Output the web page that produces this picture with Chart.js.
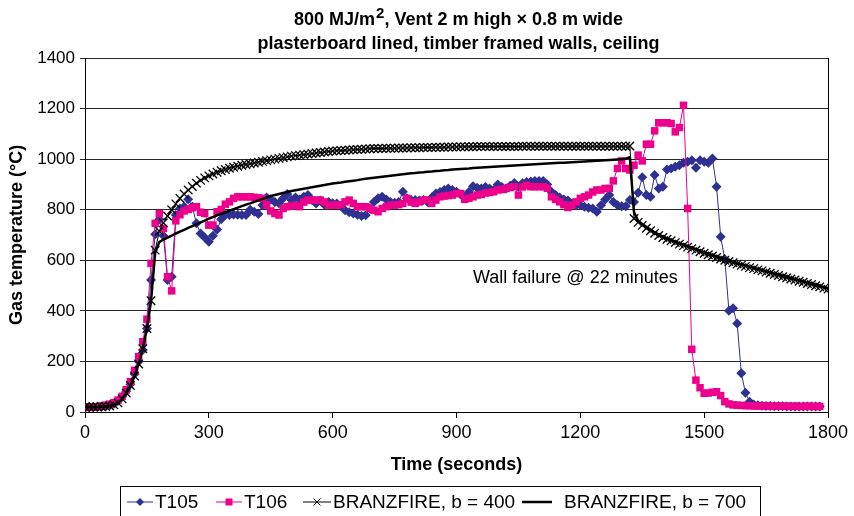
<!DOCTYPE html>
<html>
<head>
<meta charset="utf-8">
<script src="https://cdn.jsdelivr.net/npm/chart.js@4.4.1/dist/chart.umd.min.js"></script>
<style>
  html, body { margin: 0; padding: 0; background: #ffffff; }
  #c { display: block; }
</style>
</head>
<body>
<canvas id="c" width="854" height="516" style="width:854px;height:516px"></canvas>
<script>
// Gas temperatures logged every 10 s (°C)
const STEP = 10;

const xTickValues = [0, 300, 600, 900, 1200, 1500, 1800];
const yTickValues = [0, 200, 400, 600, 800, 1000, 1200, 1400];

// Thermocouple T105 (0 – 1780 s)
const t105 = [
  20, 20, 20, 21, 21, 23, 27, 33, 44, 60,
  82, 110, 150, 200, 245, 330, 522, 703, 762, 697,
  522, 535, 779, 805, 812, 841, 812, 746, 706, 690,
  673, 697, 722, 762, 779, 779, 781, 780, 779, 779,
  800, 792, 783, 818, 848, 840, 831, 826, 845, 862,
  838, 848, 840, 851, 858, 838, 825, 836, 820, 831,
  826, 825, 815, 798, 790, 785, 780, 775, 778, 805,
  831, 845, 851, 840, 831, 828, 831, 871, 845, 838,
  838, 836, 838, 831, 848, 864, 870, 878, 884, 878,
  871, 860, 851, 870, 893, 887, 884, 890, 884, 878,
  900, 890, 884, 895, 906, 891, 905, 910, 912, 914,
  914, 914, 900, 871, 858, 848, 840, 836, 825, 818,
  818, 812, 808, 805, 792, 818, 840, 858, 831, 818,
  814, 814, 838, 831, 867, 928, 858, 851, 937, 884,
  891, 959, 963, 970, 976, 986, 990, 996, 966, 996,
  990, 986, 1003, 891, 693, 604, 400, 410, 350, 153,
  76, 41, 30, 27, 25, 24, 24, 23, 23, 23,
  22, 22, 22, 22, 22, 22, 22, 22, 22
];

// Thermocouple T106 (0 – 1780 s)
const t106 = [
  18, 18, 19, 21, 24, 27, 31, 37, 47, 62,
  88, 120, 165, 219, 278, 367, 588, 746, 785, 726,
  535, 479, 756, 780, 795, 801, 808, 812, 790, 785,
  739, 739, 792, 801, 822, 831, 845, 851, 851, 851,
  851, 849, 847, 845, 818, 795, 785, 779, 805, 812,
  815, 818, 812, 830, 838, 838, 838, 838, 831, 818,
  818, 818, 820, 831, 838, 825, 812, 812, 812, 805,
  798, 792, 805, 812, 818, 818, 820, 825, 845, 830,
  825, 831, 838, 838, 825, 838, 851, 854, 856, 858,
  864, 864, 841, 845, 851, 858, 860, 866, 868, 871,
  878, 880, 884, 888, 891, 858, 890, 897, 891, 891,
  891, 891, 885, 851, 841, 831, 820, 809, 818, 831,
  845, 851, 858, 870, 878, 878, 884, 884, 914, 963,
  993, 963, 957, 976, 1016, 993, 1059, 1059, 1112, 1144,
  1144, 1144, 1141, 1108, 1125, 1213, 805, 248, 126, 96,
  74, 75, 78, 80, 65, 41, 32, 28, 27, 26,
  25, 25, 24, 24, 24, 23, 23, 24, 23, 23,
  23, 22, 23, 22, 22, 23, 22, 22, 22
];

// BRANZFIRE prediction, b = 400 (0 – 1800 s)
const branz400 = [
  20, 20, 20, 20, 21, 22, 24, 28, 36, 52,
  75, 105, 142, 190, 250, 330, 440, 640, 715, 748,
  775, 800, 823, 845, 862, 878, 892, 905, 916, 926,
  934, 941, 948, 954, 959, 964, 968, 972, 976, 979,
  982, 985, 988, 991, 994, 997, 1000, 1003, 1006, 1009,
  1012, 1014, 1016, 1018, 1020, 1022, 1024, 1026, 1028, 1030,
  1032, 1033, 1034, 1035, 1036, 1037, 1038, 1039, 1040, 1041,
  1042, 1042, 1042, 1043, 1043, 1043, 1044, 1044, 1044, 1045,
  1045, 1045, 1046, 1046, 1046, 1047, 1047, 1047, 1048, 1048,
  1048, 1049, 1049, 1049, 1049, 1050, 1050, 1050, 1050, 1050,
  1050, 1050, 1050, 1050, 1050, 1050, 1051, 1051, 1051, 1051,
  1051, 1051, 1051, 1051, 1051, 1051, 1051, 1051, 1051, 1051,
  1051, 1051, 1051, 1051, 1051, 1051, 1051, 1051, 1051, 1051,
  1051, 1051, 1052, 765, 750, 738, 727, 717, 707, 698,
  690, 683, 677, 670, 664, 658, 652, 646, 640, 634,
  628, 622, 617, 611, 605, 600, 595, 590, 585, 580,
  576, 571, 567, 562, 558, 553, 549, 544, 540, 535,
  531, 526, 522, 517, 513, 508, 504, 499, 495, 490,
  486
];

// BRANZFIRE prediction, b = 700 (0 – 1800 s)
const branz700 = [
  20, 20, 20, 20, 21, 22, 24, 28, 36, 52,
  75, 105, 142, 190, 250, 330, 440, 630, 672, 682,
  690, 698, 706, 713, 720, 728, 735, 742, 750, 757,
  765, 771, 778, 784, 790, 796, 802, 808, 814, 820,
  825, 831, 837, 843, 849, 854, 858, 862, 866, 870,
  874, 877, 880, 883, 886, 889, 892, 895, 898, 901,
  904, 906, 908, 911, 913, 915, 917, 920, 922, 924,
  926, 928, 930, 932, 934, 936, 938, 940, 942, 944,
  945, 947, 948, 950, 951, 953, 954, 956, 957, 959,
  960, 961, 962, 963, 965, 966, 967, 968, 969, 970,
  971, 972, 973, 974, 975, 976, 977, 978, 979, 980,
  981, 982, 983, 984, 985, 986, 986, 987, 988, 989,
  990, 991, 992, 993, 994, 995, 996, 997, 998, 999,
  1000, 1002, 1008, 790, 756, 743, 732, 721, 711, 702,
  694, 687, 681, 674, 668, 662, 656, 650, 644, 638,
  632, 626, 621, 615, 609, 604, 599, 594, 589, 584,
  580, 575, 571, 566, 562, 557, 553, 548, 544, 539,
  535, 530, 526, 521, 517, 512, 508, 503, 499, 494,
  490
];

const seriesNames = ['T105', 'T106', 'BRANZFIRE, b = 400', 'BRANZFIRE, b = 700'];

const BLUE = '#2e3192';
const PINK = '#ec008c';
const BLACK = '#000000';
const FONT = "'Liberation Sans', Arial, Helvetica, sans-serif";

Chart.defaults.font.family = FONT;
Chart.defaults.color = '#000';

const toPoints = vals => vals.map((v, i) => ({ x: i * STEP, y: v }));

// Draws a legend key: short line with the series marker in its middle
function drawKey(g, x0, x1, y, color, marker, lineWidth) {
  g.save();
  g.strokeStyle = color; g.fillStyle = color; g.lineWidth = lineWidth;
  g.beginPath(); g.moveTo(x0, y); g.lineTo(x1, y); g.stroke();
  const cx = (x0 + x1) / 2;
  if (marker === 'diamond') {
    g.beginPath(); g.moveTo(cx, y - 4); g.lineTo(cx + 4, y); g.lineTo(cx, y + 4); g.lineTo(cx - 4, y); g.closePath(); g.fill();
  } else if (marker === 'square') {
    g.fillRect(cx - 3.5, y - 3.5, 7, 7);
  } else if (marker === 'cross') {
    g.lineWidth = 1;
    g.beginPath(); g.moveTo(cx - 3.5, y - 3.5); g.lineTo(cx + 3.5, y + 3.5);
    g.moveTo(cx + 3.5, y - 3.5); g.lineTo(cx - 3.5, y + 3.5); g.stroke();
  }
  g.restore();
}

const titlePlugin = {
  id: 'twoLineTitle',
  afterDraw(chart) {
    const { ctx, chartArea } = chart;
    const cx = (chartArea.left + chartArea.right) / 2 + 2;
    ctx.save();
    ctx.fillStyle = '#000';
    ctx.textBaseline = 'alphabetic';
    ctx.textAlign = 'left';
    const main = 'bold 18px ' + FONT;
    const sup = 'bold 15px ' + FONT;
    const a = '800 MJ/m', s = '2', b = ', Vent 2 m high \u00d7 0.8 m wide';
    ctx.font = main; const wa = ctx.measureText(a).width, wb = ctx.measureText(b).width;
    ctx.font = sup; const ws = ctx.measureText(s).width;
    let x = cx - (wa + ws + 1 + wb) / 2;
    ctx.font = main; ctx.fillText(a, x, 25); x += wa;
    ctx.font = sup; ctx.fillText(s, x + 1, 18); x += ws + 1;
    ctx.font = main; ctx.fillText(b, x, 25);
    ctx.textAlign = 'center';
    ctx.fillText('plasterboard lined, timber framed walls, ceiling', cx, 49);
    ctx.restore();
  }
};

const framePlugin = {
  id: 'frame',
  beforeDatasetsDraw(chart) {
    const { ctx, chartArea } = chart;
    ctx.save();
    ctx.strokeStyle = '#000'; ctx.lineWidth = 1;
    const r = Math.round(chartArea.right) + 0.5;
    ctx.beginPath(); ctx.moveTo(r, chartArea.top); ctx.lineTo(r, chartArea.bottom); ctx.stroke();
    ctx.restore();
  }
};

// Boxed legend along the bottom edge
const legendPlugin = {
  id: 'boxLegend',
  afterDraw(chart) {
    const { ctx } = chart;
    const keys = [
      { x: 127, w: 26, gap: 2, color: BLUE, marker: 'diamond', lw: 1 },
      { x: 216, w: 26, gap: 2, color: PINK, marker: 'square', lw: 1 },
      { x: 303, w: 28, gap: 2, color: BLACK, marker: 'cross', lw: 1 },
      { x: 522, w: 30, gap: 12, color: BLACK, marker: 'none', lw: 2.5 }
    ];
    const y = 502;
    ctx.save();
    ctx.strokeStyle = '#000'; ctx.lineWidth = 1;
    ctx.strokeRect(120.5, 486.5, 640, 40);
    ctx.font = '19px ' + FONT;
    ctx.fillStyle = '#000';
    ctx.textBaseline = 'middle';
    ctx.textAlign = 'left';
    seriesNames.forEach((name, i) => {
      const k = keys[i];
      drawKey(ctx, k.x, k.x + k.w, y, k.color, k.marker, k.lw);
      ctx.fillText(name, k.x + k.w + k.gap, y + 1);
    });
    ctx.restore();
  }
};

const notePlugin = {
  id: 'wallNote',
  afterDatasetsDraw(chart) {
    const { ctx, scales } = chart;
    ctx.save();
    ctx.font = '18px ' + FONT;
    ctx.fillStyle = '#000';
    ctx.textBaseline = 'middle';
    ctx.textAlign = 'left';
    ctx.fillText('Wall failure @ 22 minutes', scales.x.getPixelForValue(940), scales.y.getPixelForValue(528));
    ctx.restore();
  }
};

new Chart(document.getElementById('c'), {
  type: 'line',
  data: {
    datasets: [
      { label: seriesNames[0], data: toPoints(t105), borderColor: BLUE, backgroundColor: BLUE,
        borderWidth: 1, pointStyle: 'rectRot', pointRadius: 5, pointBorderWidth: 0,
        pointBackgroundColor: BLUE, order: 4 },
      { label: seriesNames[1], data: toPoints(t106), borderColor: PINK, backgroundColor: PINK,
        borderWidth: 1, pointStyle: 'rect', pointRadius: 5.3, pointBorderWidth: 0,
        pointBackgroundColor: PINK, order: 3 },
      { label: seriesNames[2], data: toPoints(branz400), borderColor: BLACK,
        backgroundColor: BLACK, borderWidth: 1, pointStyle: 'crossRot', pointRadius: 6,
        pointBorderWidth: 1.3, pointBorderColor: BLACK, order: 2 },
      { label: seriesNames[3], data: toPoints(branz700), borderColor: BLACK,
        borderWidth: 2.5, pointRadius: 0, order: 1 }
    ]
  },
  options: {
    responsive: false,
    animation: false,
    devicePixelRatio: 1,
    layout: { padding: { left: 0, right: 26, top: 58, bottom: 30 } },
    elements: { line: { tension: 0 } },
    plugins: {
      title: { display: false },
      tooltip: { enabled: false },
      legend: { display: false }
    },
    scales: {
      x: {
        type: 'linear', min: 0, max: 1800,
        afterBuildTicks: s => { s.ticks = xTickValues.map(v => ({ value: v })); },
        afterFit: s => { s.height = 74; },
        ticks: { font: { size: 18 }, padding: 4, maxRotation: 0, autoSkip: false,
                 callback: v => String(v) },
        grid: { drawOnChartArea: false, drawTicks: true, tickLength: 6, color: '#000' },
        border: { display: true, color: '#000', width: 1 },
        title: { display: true, text: 'Time (seconds)', font: { size: 18, weight: 'bold' },
                 padding: { top: 0, bottom: 10 } }
      },
      y: {
        type: 'linear', min: 0, max: 1400,
        afterBuildTicks: s => { s.ticks = yTickValues.map(v => ({ value: v })); },
        afterFit: s => { s.width = 85; },
        ticks: { font: { size: 17 }, padding: 5, callback: v => String(v) },
        grid: { color: '#262626', lineWidth: 1, tickLength: 5 },
        border: { display: true, color: '#000', width: 1 },
        title: { display: true, text: 'Gas temperature (\u00b0C)', font: { size: 18, weight: 'bold' },
                 padding: { top: 6, bottom: 0 } }
      }
    }
  },
  plugins: [titlePlugin, framePlugin, legendPlugin, notePlugin]
});
</script>
</body>
</html>
